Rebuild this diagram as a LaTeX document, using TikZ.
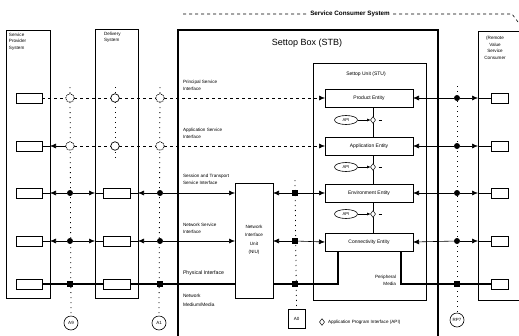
\documentclass[tikz,border=0pt]{standalone}
\usepackage{fontspec}
\setmainfont{Liberation Sans}
\usetikzlibrary{arrows.meta,shapes.geometric,backgrounds}
\begin{document}
\begin{tikzpicture}[x=1pt,y=-1pt,
  every node/.style={inner sep=0pt, outer sep=0pt},
  lbl/.style={font=\fontsize{4.6}{6.4}\selectfont, align=left, anchor=west},
  sysbox/.style={draw, line width=0.7pt, anchor=north west},
  sbox/.style={draw, fill=white, line width=0.6pt, minimum width=26pt, minimum height=10pt},
  rbox/.style={draw, fill=white, line width=0.6pt, minimum width=17pt, minimum height=10pt},
  ent/.style={draw, fill=white, line width=0.7pt, minimum width=88pt, minimum height=18pt, font=\fontsize{5}{6}\selectfont},
  api/.style={draw, fill=white, ellipse, line width=0.6pt, minimum width=23pt, minimum height=9pt, font=\fontsize{4.2}{5}\selectfont},
  apid/.style={draw, fill=white, diamond, line width=0.5pt, minimum width=5pt, minimum height=6.5pt},
  rpc/.style={draw, fill=white, circle, line width=0.6pt, minimum size=14pt, font=\fontsize{4.5}{5}\selectfont},
  ocirc/.style={draw, fill=white, circle, line width=0.7pt, minimum size=8.5pt},
  dcirc/.style={draw, fill=white, circle, dash pattern=on 1.2pt off 0.8pt, line width=0.7pt, minimum size=8.5pt},
  fdot/.style={fill, circle, minimum size=6pt},
  fsq/.style={fill, rectangle, minimum size=6pt},
  dotln/.style={line width=0.8pt, dash pattern=on 1pt off 4pt},
  dashln/.style={line width=0.6pt, dash pattern=on 3pt off 3pt},
  ln/.style={line width=0.6pt},
  thk/.style={line width=2.2pt},
  arr/.style={ln, -{Latex[length=6pt,width=5pt]}},
  sarr/.style={line width=0.5pt, -{Latex[length=3.5pt,width=3pt]}},
]
\useasboundingbox (0,0) rectangle (519,335);
\clip (0,0) rectangle (519,335);

% systems
\node (sps) [sysbox, minimum width=44pt, minimum height=268pt] at (6,30) {};
\node (del) [sysbox, minimum width=43pt, minimum height=269pt] at (95,29) {};
\node (stb) [sysbox, line width=1.1pt, minimum width=260pt, minimum height=330pt] at (178,30) {};
\node (rem) [sysbox, line width=1pt, minimum width=60pt, minimum height=269pt] at (478,31) {};
\node (stu) [sysbox, minimum width=113pt, minimum height=237pt] at (313,63) {};
\node (niu) [sysbox, fill=white, minimum width=38pt, minimum height=115pt] at (235,183) {};

% titles
\node (tsps) [lbl, anchor=north west] at (9,33) {Service\\Provider\\System};
\node (tdel) [lbl, anchor=north west] at (104,32) {Delivery\\System};
\node (tstb) [font=\fontsize{9}{10}\selectfont] at (307,43) {Settop Box (STB)};
\node (tstu) [font=\fontsize{5}{6}\selectfont] at (366,74) {Settop Unit (STU)};
\node (trem) [font=\fontsize{4.6}{6.8}\selectfont, align=center, anchor=north] at (495,36) {(Remote\\Value\\Service\\Consumer};
\node (tscs) [fill=white, inner sep=2pt, font=\fontsize{6.3}{7}\selectfont\bfseries] at (350,14) {Service Consumer System};
\node (tniu) [font=\fontsize{4.6}{8.4}\selectfont, align=center] at (254,240) {Network\\Interface\\Unit\\(NIU)};

% interface labels
\node (l1) [lbl] at (183,85.5) {Principal Service\\Interface};
\node (l2) [lbl] at (183,133.5) {Application Service\\Interface};
\node (l3) [lbl] at (183,179.5) {Session and Transport\\Service Interface};
\node (l4) [lbl] at (183,228.5) {Network Service\\Interface};
\node (l5) [lbl, font=\fontsize{5.2}{6}\selectfont] at (183,273) {Physical Interface};
\node (l6) [lbl, font=\fontsize{4.8}{8.6}\selectfont] at (183,300.5) {Network\\Medium/Media};
\node (lpm) [lbl, align=right, anchor=east] at (396,280.5) {Peripheral\\Media};

% end boxes
\foreach \i/\y in {1/98,2/146,3/193,4/241,5/284}{
  \node (p\i) [sbox] at (29,\y) {};
  \node (q\i) [rbox] at (499.5,\y) {};
}
\foreach \i/\y in {3/193,4/241,5/284}{
  \node (d\i) [sbox, minimum width=27pt] at (116.5,\y) {};
}

% entities
\node (e1) [ent] at (369,98) {Product Entity};
\node (e2) [ent] at (369,146) {Application Entity};
\node (e3) [ent] at (369,193) {Environment Entity};
\node (e4) [ent] at (369,242) {Connectivity Entity};

% API
\foreach \i/\y in {1/120,2/167,3/214}{
  \node (a\i) [api] at (346,\y) {API};
  \node (k\i) [apid] at (373,\y) {};
}

% markers rows 1-2
\foreach \i/\y in {1/98,2/146}{
  \node (ca\i) [dcirc] at (70,\y) {};
  \node (cb\i) [ocirc] at (115,\y) {};
  \node (cc\i) [dcirc] at (160,\y) {};
  \node (md\i) [fdot] at (457,\y) {};
}
% markers rows 3-4
\foreach \i/\y in {3/193,4/241}{
  \node (ca\i) [fdot] at (70,\y) {};
  \node (cc\i) [fdot] at (160,\y) {};
  \node (s\i) [fsq] at (295,\y) {};
  \node (md\i) [fdot] at (457,\y) {};
}
% markers row 5
\node (ca5) [fsq] at (70,284) {};
\node (cc5) [fsq] at (160,284) {};
\node (s5) [fsq] at (295,284) {};
\node (md5) [fsq] at (457,284) {};

% reference points
\node (rp9) [rpc] at (71,323) {A9};
\node (rp1) [rpc] at (159,323) {A1};
\node (ra0) [draw, fill=white, line width=0.6pt, minimum width=17pt, minimum height=19pt, font=\fontsize{4.5}{5}\selectfont] at (296.5,318.5) {A0};
\node (rp7) [rpc] at (457,320) {RP7};

% legend
\node (lgd) [apid] at (322,322) {};
\node (lgt) [lbl] at (328,322) {Application Program Interface (API)};

\begin{scope}[on background layer]
  \fill[white] (0,0) rectangle (519,335);
  % dotted reference lines
  \draw[dotln] (ca1) ++(0,-11) -- (rp9.north);
  \draw[dotln] (cc1) ++(0,-11) -- (rp1.north);
  \draw[dotln] (cb1) ++(0,-11) -- ++(0,72);
  \draw[dotln] (s3) ++(0,-13) -- (ra0.north);
  \draw[dotln] (md1) ++(0,-12) -- (rp7.north);
  % service consumer boundary
  \draw[dashln] (183,14) -- (512,14) -- (518,22);

  % row 1
  \draw[dashln] (p1.east) -- (ca1) -- (cb1) -- (cc1);
  \draw[dashln, -{Latex[length=6pt,width=5pt]}] (cc1) -- (e1.west);
  % row 2
  \draw[dashln] (ca2) -- (cb2) -- (cc2);
  \draw[dashln, -{Latex[length=6pt,width=5pt]}] (cc2) -- (e2.west);
  \draw[arr] (ca2) -- (sps.east |- ca2);
  \draw[ln] (sps.east |- ca2) -- (p2.east);
  % rows 3-4
  \foreach \i in {3,4}{
    \draw[arr] (ca\i) -- (sps.east |- ca\i);
    \draw[ln] (sps.east |- ca\i) -- (p\i.east);
    \draw[arr] (ca\i) -- (del.west |- ca\i);
    \draw[ln] (del.west |- ca\i) -- (d\i.west);
    \draw[arr] (cc\i) -- (del.east |- cc\i);
    \draw[ln] (del.east |- cc\i) -- (d\i.east);
    \draw[arr] (cc\i) -- (niu.west |- cc\i);
    \draw[arr] (s\i) -- (niu.east |- s\i);
    \draw[arr] (s\i) -- (e\i.west);
  }
  % right side rows 1-4
  \foreach \i in {1,2,3,4}{
    \draw[arr] (md\i) -- (e\i.east);
    \draw[arr] (md\i) -- (rem.west |- md\i);
    \draw[ln] (rem.west |- md\i) -- (q\i.west);
  }
  % row 5 physical
  \draw[thk] (p5.east) -- (ca5) -- (d5.west);
  \draw[thk] (d5.east) -- (cc5) -- (niu.west |- cc5);
  \coordinate (pm1) at (338,284);
  \coordinate (pm2) at (401,284);
  \draw[thk] (niu.east |- s5) -- (s5) -- (pm1) -- (pm1 |- e4.south);
  \draw[thk] (pm2 |- e4.south) -- (pm2) -- (md5) -- (q5.west);

  % API connections
  \foreach \i in {1,2,3}{
    \draw[sarr] (a\i.east) -- (k\i.west);
    \draw[ln] (k\i.east) ++(3,0) -- ++(3,0);
  }
  \draw[ln] (e1.south -| k1) -- (k1) -- (e2.north -| k1);
  \draw[ln] (e2.south -| k2) -- (k2) -- (e3.north -| k2);
  \draw[ln] (e3.south -| k3) -- (k3) -- (e4.north -| k3);
\end{scope}
\end{tikzpicture}
\end{document}
